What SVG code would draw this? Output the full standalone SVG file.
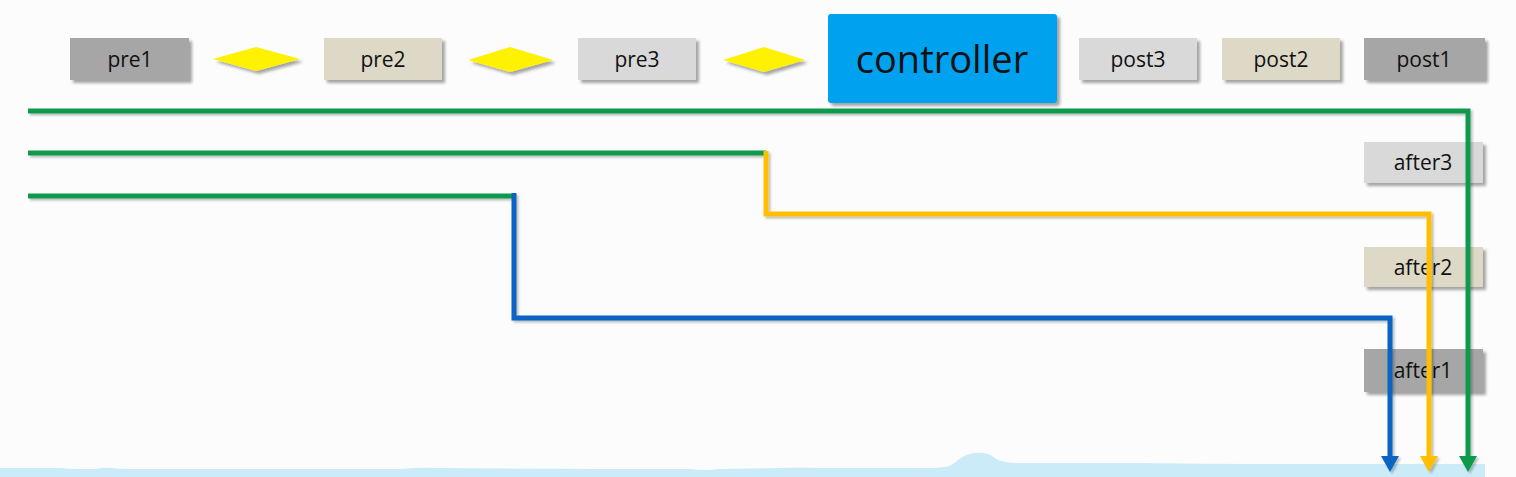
<svg xmlns="http://www.w3.org/2000/svg" width="1516" height="477" viewBox="0 0 1516 477">
<defs>
<style>
.box{stroke:none;}
.g{fill:#D9D9D9;}
.b{fill:#DDD9C6;}
.d{fill:#A6A6A6;}
.t{font-family:"Open Sans","Liberation Sans",sans-serif;font-size:21px;fill:#111;text-anchor:middle;}
.dia{fill:#FFF200;}
.ln{fill:none;stroke-width:5;stroke-linejoin:miter;stroke-linecap:butt;}
</style>
<filter id="sh" x="-10%" y="-20%" width="130%" height="160%">
<feDropShadow dx="3" dy="3" stdDeviation="1.6" flood-color="#000" flood-opacity="0.35"/>
</filter>
<filter id="lsh" x="-5%" y="-5%" width="110%" height="110%">
<feDropShadow dx="2" dy="2" stdDeviation="1.2" flood-color="#000" flood-opacity="0.25"/>
</filter>
</defs>
<rect width="1516" height="477" fill="#FDFCFD"/>
<path d="M0,468 L60,468 Q70,469 80,469 L95,469 Q105,467 112,468 Q120,469 130,469 L400,469 Q420,467 440,468 L600,469 L690,469 Q705,471 720,469 L780,468 Q800,467 820,468 L935,468 L945,467 Q952,466 958,460 Q966,454 975,453 Q986,452 992,456 Q1000,463 1015,463 L1140,463 Q1200,464 1260,464 L1485,464 L1485,477 L0,477 Z" fill="#CBEBF8"/>
<g id="pre1"><rect class="box d" x="70" y="38" width="119" height="42" filter="url(#sh)"/><text class="t" x="130" y="67">pre1</text></g>
<g id="diamond1"><polygon class="dia" points="213,59 256,47 300,59 256,71" filter="url(#sh)"/></g>
<g id="pre2"><rect class="box b" x="324" y="38" width="118" height="42" filter="url(#sh)"/><text class="t" x="383" y="67">pre2</text></g>
<g id="diamond2"><polygon class="dia" points="468,60 510,47 553,60 510,72" filter="url(#sh)"/></g>
<g id="pre3"><rect class="box g" x="578" y="38" width="118" height="42" filter="url(#sh)"/><text class="t" x="637" y="67">pre3</text></g>
<g id="diamond3"><polygon class="dia" points="723,60 764,47 805,60 764,72" filter="url(#sh)"/></g>
<g id="controller"><rect x="828" y="14" width="229" height="89" rx="3" fill="#03A1EE" filter="url(#sh)"/><text x="942" y="73" font-family="'Open Sans','Liberation Sans',sans-serif" font-size="38" fill="#111" text-anchor="middle">controller</text></g>
<g id="post3"><rect class="box g" x="1079" y="38" width="118" height="42" filter="url(#sh)"/><text class="t" x="1138" y="67">post3</text></g>
<g id="post2"><rect class="box b" x="1222" y="38" width="118" height="42" filter="url(#sh)"/><text class="t" x="1281" y="67">post2</text></g>
<g id="post1"><rect class="box d" x="1364" y="38" width="121" height="42" filter="url(#sh)"/><text class="t" x="1424" y="67">post1</text></g>
<g id="after3"><rect class="box g" x="1364" y="142" width="119" height="41" filter="url(#sh)"/><text class="t" x="1423" y="170">after3</text></g>
<g id="after2"><rect class="box b" x="1364" y="247" width="119" height="40" filter="url(#sh)"/><text class="t" x="1423" y="275">after2</text></g>
<g id="after1"><rect class="box d" x="1364" y="349" width="119" height="43" filter="url(#sh)"/><text class="t" x="1423" y="378">after1</text></g>
<g id="connectors" filter="url(#lsh)">
<path class="ln" stroke="#0E9A4E" d="M28,111 H1468 V458"/>
<polygon fill="#0E9A4E" points="1459,456 1477,456 1468,472"/>
<path class="ln" stroke="#0E9A4E" d="M28,153 H766"/>
<path class="ln" stroke="#FFBF00" d="M766,151 V214 H1429 V458"/>
<polygon fill="#FFBF00" points="1420,456 1438,456 1429,472"/>
<path class="ln" stroke="#0E9A4E" d="M28,196 H514"/>
<path class="ln" stroke="#0A64C4" d="M514,193 V318 H1390 V458"/>
<polygon fill="#0A64C4" points="1381,456 1399,456 1390,472"/>
</g>
</svg>
